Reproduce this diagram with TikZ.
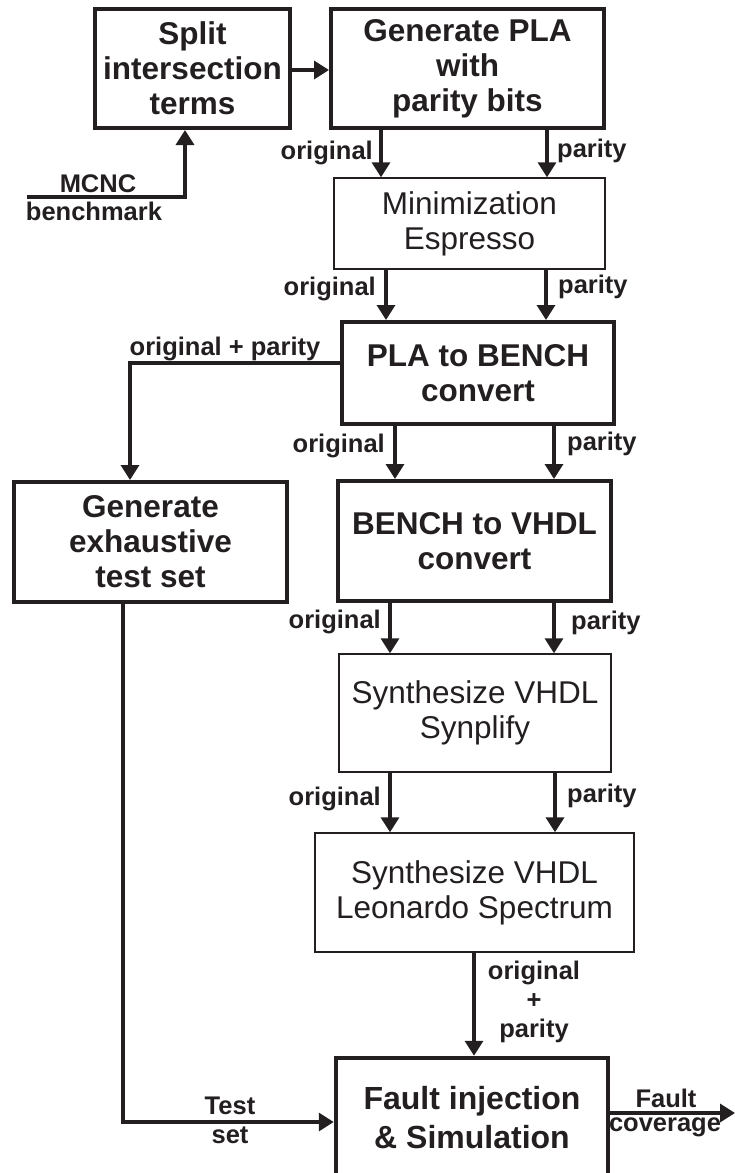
\documentclass[tikz,border=0pt]{standalone}
\usepackage{fontspec}
\setmainfont{Liberation Sans}
\usetikzlibrary{arrows.meta,calc}
\definecolor{ink}{RGB}{35,31,32}
\begin{document}
\begin{tikzpicture}[x=1pt,y=-1pt,
  thickbox/.style={draw=ink,line width=4pt,rectangle,inner sep=0pt,align=center,
    font=\fontsize{31.5}{35}\selectfont\bfseries,text=ink},
  thinbox/.style={draw=ink,line width=1.4pt,rectangle,inner sep=0pt,align=center,
    font=\fontsize{31.5}{35}\selectfont,text=ink},
  arr/.style={draw=ink,line width=3.4pt,-{Triangle[width=18pt,length=15pt]}},
  lbl/.style={font=\fontsize{25.5}{29}\selectfont\bfseries,text=ink,inner sep=0pt,align=center}]
\useasboundingbox (0,0) rectangle (735,1173);

% boxes
\node[thickbox,minimum width=195pt,minimum height=119pt] (split) at (192.5,68.5)
  {Split\\intersection\\terms};
\node[thickbox,minimum width=273pt,minimum height=119pt] (gen) at (467.5,68.5)
  {Generate PLA\\with\\parity bits};
\node[thinbox,minimum width=271pt,minimum height=91pt] (min) at (469.5,223.5)
  {Minimization\\Espresso};
\node[thickbox,minimum width=272pt,minimum height=102pt] (p2b) at (478,373)
  {PLA to BENCH\\convert};
\node[thickbox,minimum width=273pt,minimum height=120pt] (exh) at (150.5,542)
  {Generate\\exhaustive\\test set};
\node[thickbox,minimum width=273pt,minimum height=120pt] (b2v) at (474.5,541)
  {BENCH to VHDL\\convert};
\node[thinbox,minimum width=272pt,minimum height=118pt] (syn) at (475,713)
  {Synthesize VHDL\\Synplify};
\node[thinbox,minimum width=319pt,minimum height=119pt] (leo) at (474.5,892.5)
  {Synthesize VHDL\\Leonardo Spectrum};
\node[thickbox,line width=4.5pt,minimum width=272pt,minimum height=120pt,
  font=\fontsize{32}{39}\selectfont\bfseries] (fault) at (472,1118)
  {Fault injection\\\& Simulation};

% connectors
\draw[arr] (split.east |- 0,70) -- (gen.west |- 0,70);
\coordinate (mcnc) at (27,197);
\draw[arr] (mcnc) -| (split.south -| 185,0);
\node[lbl] (mcncl) at (98,184) {MCNC};
\node[lbl] (benchl) at (94,211) {benchmark};

\draw[arr] (gen.south -| 381,0) -- (min.north -| 381,0);
\draw[arr] (gen.south -| 547,0) -- (min.north -| 547,0);
\node[lbl,anchor=east] (l1o) at (373,153) {original};
\node[lbl,anchor=west] (l1p) at (557,151) {parity};

\draw[arr] (min.south -| 386,0) -- (p2b.north -| 386,0);
\draw[arr] (min.south -| 546,0) -- (p2b.north -| 546,0);
\node[lbl,anchor=east] (l2o) at (376,289) {original};
\node[lbl,anchor=west] (l2p) at (558,287) {parity};

\draw[arr] (p2b.west |- 0,363) -| (exh.north -| 130,0);
\node[lbl] (l3) at (225,349) {original + parity};

\draw[arr] (p2b.south -| 395,0) -- (b2v.north -| 395,0);
\draw[arr] (p2b.south -| 554,0) -- (b2v.north -| 554,0);
\node[lbl,anchor=east] (l4o) at (385,446) {original};
\node[lbl,anchor=west] (l4p) at (567,444) {parity};

\draw[arr] (b2v.south -| 390,0) -- (syn.north -| 390,0);
\draw[arr] (b2v.south -| 554,0) -- (syn.north -| 554,0);
\node[lbl,anchor=east] (l5o) at (381,622) {original};
\node[lbl,anchor=west] (l5p) at (571,623) {parity};

\draw[arr] (syn.south -| 390,0) -- (leo.north -| 390,0);
\draw[arr,line width=4.2pt] (syn.south -| 555,0) -- (leo.north -| 555,0);
\node[lbl,anchor=east] (l6o) at (381,799) {original};
\node[lbl,anchor=west] (l6p) at (567,796) {parity};

\draw[arr] (leo.south -| 474,0) -- (fault.north -| 474,0);
\node[lbl] (l7) at (534,1002) {original\\+\\parity};

\draw[arr] (exh.south -| 123,0) |- (fault.west |- 0,1122);
\node[lbl] (testl) at (230,1106) {Test};
\node[lbl] (setl) at (230,1135) {set};

\coordinate (out) at (735,1113);
\draw[arr] (fault.east |- 0,1113) -- (out);
\node[lbl] (fl) at (666,1098) {Fault};
\node[lbl] (cl) at (665,1127) {coverage};
\end{tikzpicture}
\end{document}
